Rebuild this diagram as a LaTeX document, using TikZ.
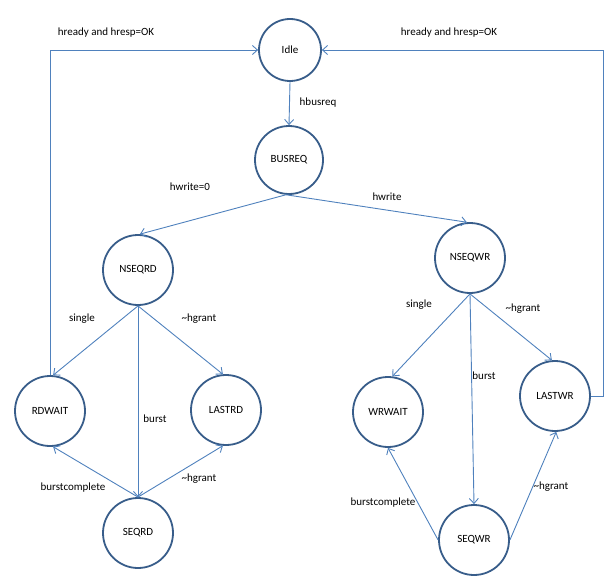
\documentclass[tikz,border=0pt]{standalone}
\usepackage{fontspec}
\setmainfont{Carlito}
\usetikzlibrary{arrows.meta}
\definecolor{ringblue}{HTML}{385D8A}
\definecolor{edgeblue}{HTML}{4F81BD}
\tikzset{
  state/.style={circle, draw=ringblue, line width=1.8pt, minimum size=70pt, inner sep=0pt, font=\fontsize{11}{13}\selectfont},
  trans/.style={draw=edgeblue, line width=0.9pt, -{Straight Barb[length=5pt,width=9pt]}},
  lbl/.style={font=\fontsize{11}{13}\selectfont, inner sep=1pt}
}
\begin{document}
\begin{tikzpicture}[x=1pt, y=-1pt]
  \useasboundingbox (0,0) rectangle (605,578);
  % states
  \node[state, minimum size=62pt] (idle)   at (290, 50)  {Idle};
  \node[state, minimum size=68pt] (busreq) at (289, 160) {BUSREQ};
  \node[state] (nseqrd) at (138, 270) {NSEQRD};
  \node[state] (nseqwr) at (470, 258) {NSEQWR};
  \node[state] (rdwait) at (50, 411)  {RDWAIT};
  \node[state] (lastrd) at (226, 410) {LASTRD};
  \node[state] (seqrd)  at (138, 533) {SEQRD};
  \node[state] (wrwait) at (388, 412) {WRWAIT};
  \node[state] (lastwr) at (555, 396) {LASTWR};
  \node[state] (seqwr)  at (474, 540) {SEQWR};
  \coordinate (rturn) at (603, 396);

  % transitions
  \draw[trans] (idle.south) -- (busreq.north);
  \draw[trans] (busreq.-95) -- (nseqrd.87);
  \draw[trans] (busreq.-95) -- (nseqwr.95);

  \draw[trans] (nseqrd.south) -- (rdwait.85);
  \draw[trans] (nseqrd.south) -- (lastrd.95);
  \draw[trans] (nseqrd.south) -- (seqrd.north);
  \draw[trans] (seqrd.north) -- (rdwait.-85);
  \draw[trans] (seqrd.north) -- (lastrd.-95);

  \draw[trans] (nseqwr.south) -- (wrwait.83);
  \draw[trans] (nseqwr.south) -- (lastwr.95);
  \draw[trans] (nseqwr.south) -- (seqwr.north);
  \draw[trans] (seqwr.west) -- (wrwait.south);
  \draw[trans] (seqwr.east) -- (lastwr.-88);

  \draw[trans] (rdwait.north) |- (idle.west);
  \draw[trans] (lastwr.east) -- (rturn) |- (idle.east);

  % labels
  \node[lbl] (l1)  at (106, 33)  {hready and hresp=OK};
  \node[lbl] (l2)  at (449, 33)  {hready and hresp=OK};
  \node[lbl] (l3)  at (318, 103) {hbusreq};
  \node[lbl] (l4)  at (190, 187) {hwrite=0};
  \node[lbl] (l5)  at (387, 197) {hwrite};
  \node[lbl] (l6)  at (82, 319)  {single};
  \node[lbl] (l7)  at (199, 319) {\char`\~hgrant};
  \node[lbl] (l8)  at (155, 419) {burst};
  \node[lbl] (l9)  at (73, 488)  {burstcomplete};
  \node[lbl] (l10) at (199, 479) {\char`\~hgrant};
  \node[lbl] (l11) at (419, 305) {single};
  \node[lbl] (l12) at (523, 309) {\char`\~hgrant};
  \node[lbl] (l13) at (484, 376) {burst};
  \node[lbl] (l14) at (383, 503) {burstcomplete};
  \node[lbl] (l15) at (551, 487) {\char`\~hgrant};
\end{tikzpicture}
\end{document}
